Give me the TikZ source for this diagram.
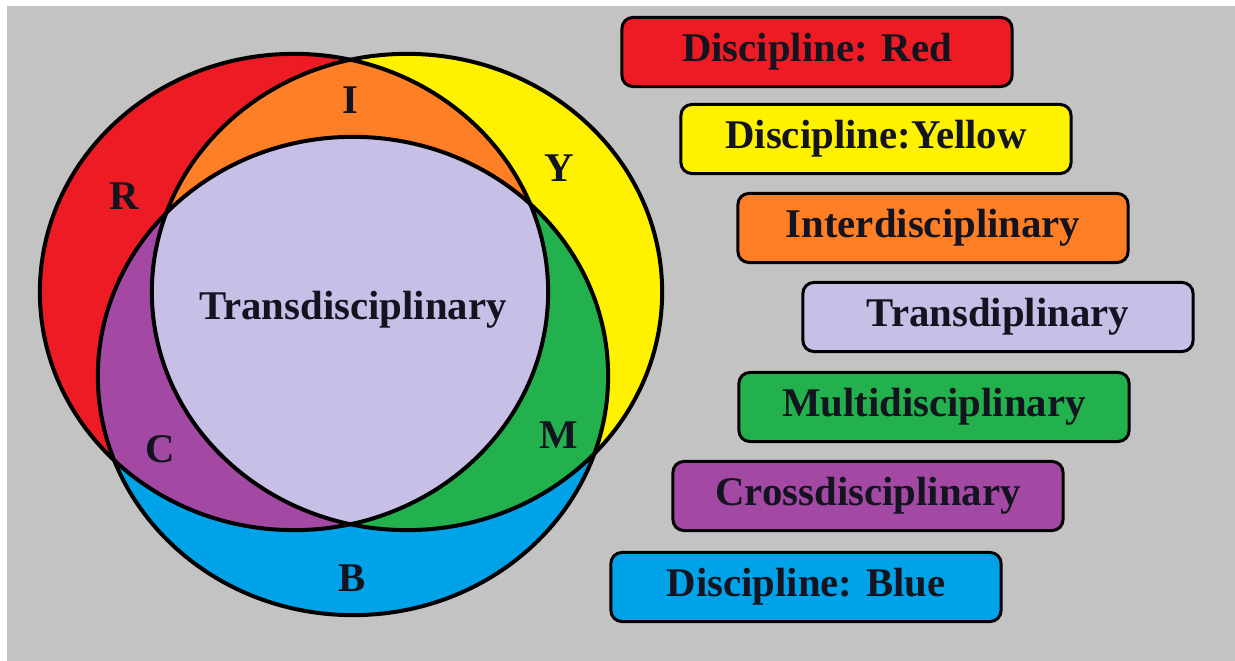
\documentclass[tikz,border=0pt]{standalone}
\usepackage{fontspec}
\setmainfont{Liberation Serif}
\definecolor{bggray}{HTML}{C3C3C3}
\definecolor{cred}{HTML}{ED1C24}
\definecolor{cyellow}{HTML}{FFF200}
\definecolor{corange}{HTML}{FF7F27}
\definecolor{clav}{HTML}{C8BFE7}
\definecolor{cgreen}{HTML}{22B14C}
\definecolor{cpurple}{HTML}{A349A4}
\definecolor{cblue}{HTML}{00A2E8}
\definecolor{ink}{HTML}{141420}
\begin{document}
\begin{tikzpicture}[x=0.01cm,y=-0.01cm,
  txt/.style={font=\fontsize{11.6}{13.5}\selectfont\bfseries, text=ink},
  lbl/.style={txt, inner sep=0pt},
  keybox/.style={txt, draw=black, line width=0.03cm, rounded corners=0.11cm,
     minimum width=3.9cm, minimum height=0.69cm, inner sep=0pt},
  venn/.style={draw=black, line width=0.04cm}]
\useasboundingbox (0,0) rectangle (1235,661);
\fill[white] (0,0) rectangle (1235,661);
\fill[bggray] (7,6) rectangle (1236,662);
% ellipses
\def\Rpath{(294,292) ellipse [x radius=2.54cm, y radius=2.38cm]}
\def\Ypath{(407,292) ellipse [x radius=2.55cm, y radius=2.38cm]}
\def\Bpath{(353,376) ellipse [x radius=2.55cm, y radius=2.39cm]}
\fill[cred] \Rpath;
\fill[cyellow] \Ypath;
\fill[cblue] \Bpath;
\begin{scope}\clip \Rpath; \fill[corange] \Ypath; \fill[cpurple] \Bpath; \end{scope}
\begin{scope}\clip \Ypath; \fill[cgreen] \Bpath; \end{scope}
\begin{scope}\clip \Rpath; \clip \Ypath; \fill[clav] \Bpath; \end{scope}
\draw[venn] \Rpath;
\draw[venn] \Ypath;
\draw[venn] \Bpath;
% region labels
\node[lbl] (tI) at (350,100) {I};
\node[lbl] (tR) at (124,196) {R};
\node[lbl] (tY) at (559,168) {Y};
\node[lbl] (tC) at (160,449) {C};
\node[lbl] (tM) at (559,435) {M};
\node[lbl] (tB) at (352,578) {B};
\node[lbl] (tT) at (353,310) {Transdisciplinary};
% key boxes
\node[keybox, fill=cred]    (kR) at (817,52)  {Discipline: Red};
\node[keybox, fill=cyellow] (kY) at (876,139) {Discipline:Yellow};
\node[keybox, fill=corange] (kI) at (933,228) {Interdisciplinary};
\node[keybox, fill=clav]    (kT) at (998,317) {Transdiplinary};
\node[keybox, fill=cgreen]  (kM) at (934,407) {Multidisciplinary};
\node[keybox, fill=cpurple] (kC) at (868,496) {Crossdisciplinary};
\node[keybox, fill=cblue]   (kB) at (806,587) {Discipline: Blue};
\end{tikzpicture}
\end{document}
